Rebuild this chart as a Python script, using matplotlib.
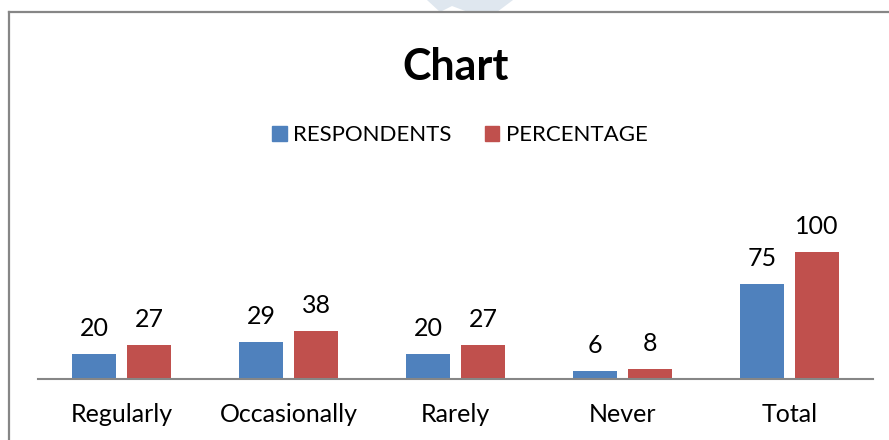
import matplotlib.pyplot as plt
from matplotlib.lines import Line2D
from matplotlib.patches import Polygon, Patch
import numpy as np

categories = ["Regularly", "Occasionally", "Rarely", "Never", "Total"]
respondents = [20, 29, 20, 6, 75]
percentage = [27, 38, 27, 8, 100]

BLUE = "#4F81BD"
RED = "#C0504D"
GRID = "#868686"

plt.rcParams["font.family"] = ["Lato", "DejaVu Sans"]

fig = plt.figure(figsize=(8.89, 4.40), dpi=100)

# outer chart frame (only the left and top edges show)
fig.add_artist(Line2D([9 / 889, 9 / 889], [0, 1 - 12 / 440], color=GRID, lw=1.6,
                      transform=fig.transFigure))
fig.add_artist(Line2D([9 / 889, 1], [1 - 12 / 440, 1 - 12 / 440], color=GRID, lw=1.6,
                      transform=fig.transFigure))

# faint chevron peeking in above the frame
chev = np.array([[427, 0], [513, 0], [497, 12], [468, 12], [452, 6], [440, 12]])
fig.add_artist(Polygon(np.column_stack([chev[:, 0] / 889, 1 - chev[:, 1] / 440]),
                       closed=True, facecolor="#dfe7ef", edgecolor="none",
                       transform=fig.transFigure, zorder=0))

ax = fig.add_axes([38 / 889, 61 / 440, 835 / 889, 152.4 / 440])
x = np.arange(len(categories))
w = 0.263
off = 0.165
b1 = ax.bar(x - off, respondents, w, color=BLUE, zorder=2)
b2 = ax.bar(x + off, percentage, w, color=RED, zorder=2)

for bars, vals in ((b1, respondents), (b2, percentage)):
    for rect, v in zip(bars, vals):
        ax.annotate(str(v), (rect.get_x() + rect.get_width() / 2, v),
                    xytext=(0, 10), textcoords="offset points",
                    ha="center", va="bottom", fontsize=18, color="black")

ax.set_xlim(-0.5, len(categories) - 0.5)
ax.set_ylim(0, 120)
ax.set_xticks(x)
ax.set_xticklabels(categories, fontsize=18)
ax.tick_params(axis="x", length=0, pad=17.5)
ax.set_yticks([])
for s in ("top", "right", "left"):
    ax.spines[s].set_visible(False)
ax.spines["bottom"].set_color(GRID)
ax.spines["bottom"].set_linewidth(1.5)
ax.patch.set_visible(False)

fig.text(456 / 889, 1 - 67 / 440, "Chart", ha="center", va="center",
         fontsize=31, fontweight="bold")

handles = [Patch(color=BLUE, label="RESPONDENTS"), Patch(color=RED, label="PERCENTAGE")]
fig.legend(handles=handles, loc="center", bbox_to_anchor=(460 / 889, 1 - 135 / 440),
           ncol=2, frameon=False, fontsize=16, handlelength=0.65, handleheight=0.65,
           handletextpad=0.3, columnspacing=1.5, borderpad=0)

fig.savefig("out.png", dpi=100)
